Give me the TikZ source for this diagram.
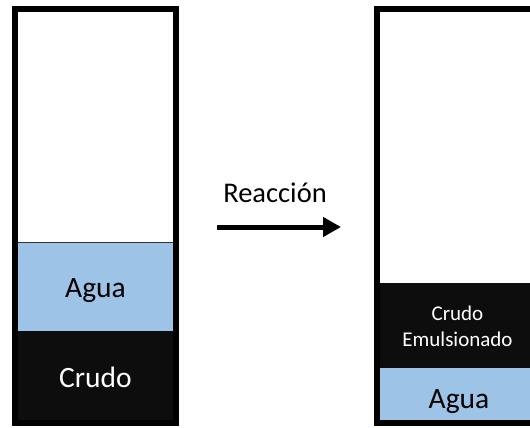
\documentclass[tikz,border=0pt]{standalone}
\usepackage{fontspec}
\setmainfont{Carlito}
\usetikzlibrary{arrows.meta}
\definecolor{agua}{HTML}{9DC3E6}
\definecolor{crudo}{HTML}{0D0D0D}
\begin{document}
\begin{tikzpicture}[x=1pt,y=-1pt,
  big/.style={font=\fontsize{29.5}{34}\selectfont,anchor=base,inner sep=0pt},
  small/.style={font=\fontsize{21}{26}\selectfont,anchor=base,inner sep=0pt},
  frame/.style={line width=6pt,draw=black}]
\useasboundingbox (0,0) rectangle (530,428);
\begin{scope}
\clip (0,0) rectangle (530,428);
% left container
\fill[white] (18,12) rectangle (173,242);
\fill[agua] (18,242) rectangle (173,331);
\fill[crudo] (18,331) rectangle (173,422);
\draw[line width=1pt,black!80] (18,242) -- (173,242);
\draw[frame] (15,9) rectangle (176,423);
% right container
\fill[white] (380,12) rectangle (535,283);
\fill[crudo] (380,283) rectangle (535,368);
\fill[agua] (380,368) rectangle (535,420);
\draw[frame] (377,9) rectangle (536,423);
\end{scope}
\node[big] (agua1) at (95.5,297) {Agua};
\node[big,text=white] (crudo1) at (95.5,387) {Crudo};
\node[small,text=white] (crudo2) at (457.5,320) {Crudo};
\node[small,text=white] (emuls) at (457.5,346) {Emulsionado};
\node[big] (agua2) at (459,408) {Agua};
\node[font=\fontsize{28.5}{34}\selectfont,anchor=base,inner sep=0pt] (reac) at (275,202) {Reacción};
\coordinate (a1) at (217,227);
\coordinate (a2) at (341,227);
\draw[line width=5pt,-{Triangle[length=18pt,width=19pt]}] (a1) -- (a2);
\end{tikzpicture}
\end{document}
